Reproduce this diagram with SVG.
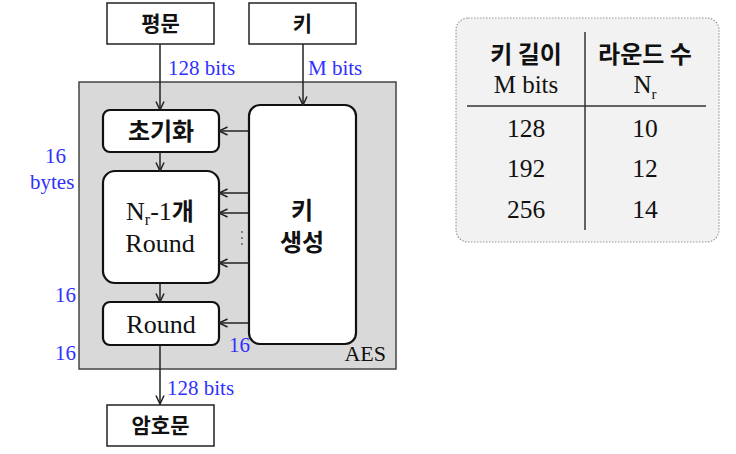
<svg xmlns="http://www.w3.org/2000/svg" width="736" height="454" viewBox="0 0 736 454">
<style>
.t{fill:#111}
.k{font-weight:bold;fill:#111}
.b{fill:#3030ff;font-size:21px}
.box{fill:#fff;stroke:#222;stroke-width:1.5}
.rb{fill:#fff;stroke:#111;stroke-width:2.2}
.ln{stroke:#222;stroke-width:1.5;fill:none}
</style>
<defs>
<marker id="ah" viewBox="0 0 10 10" refX="9.5" refY="5" markerWidth="10" markerHeight="10" markerUnits="userSpaceOnUse" orient="auto">
<path d="M1,1 L9.5,5 L1,9" fill="none" stroke="#222" stroke-width="1.5"/>
</marker>
</defs>
<rect id="aes" x="79" y="82" width="317" height="287" fill="#d9d9d9" stroke="#444" stroke-width="1.5"/>
<text class="t" font-family="Liberation Serif" x="386" y="361" font-size="22" text-anchor="end">AES</text>
<g id="plain"><rect class="box" x="107" y="3" width="107" height="41"/><text class="k" font-family="Noto Sans CJK KR" x="160.5" y="31" font-size="21" text-anchor="middle">평문</text></g>
<g id="key"><rect class="box" x="249" y="3" width="107" height="41"/><text class="k" font-family="Noto Sans CJK KR" x="302.5" y="31" font-size="21" text-anchor="middle">키</text></g>
<g id="init"><rect class="rb" x="103" y="110" width="116" height="42" rx="7"/><text class="k" font-family="Noto Sans CJK KR" x="161" y="140" font-size="24" text-anchor="middle">초기화</text></g>
<g id="rounds"><rect class="rb" x="103" y="171" width="116" height="112" rx="12"/>
<text class="t" font-family="Liberation Serif" x="160" y="220" font-size="26" text-anchor="middle">N<tspan font-size="16" dy="5">r</tspan><tspan dy="-5">-1</tspan><tspan class="k" font-family="Noto Sans CJK KR" font-size="24">개</tspan></text>
<text class="t" font-family="Liberation Serif" x="160" y="252" font-size="26" text-anchor="middle">Round</text></g>
<g id="final"><rect class="rb" x="103" y="302" width="116" height="43" rx="7"/><text class="t" font-family="Liberation Serif" x="161" y="333" font-size="26" text-anchor="middle">Round</text></g>
<g id="keygen"><rect class="rb" x="249" y="105" width="107" height="239" rx="11"/>
<text class="k" font-family="Noto Sans CJK KR" x="302" y="219" font-size="24" text-anchor="middle">키</text>
<text class="k" font-family="Noto Sans CJK KR" x="302" y="251" font-size="24" text-anchor="middle">생성</text></g>
<g id="cipher"><rect class="box" x="107" y="405" width="107" height="41"/><text class="k" font-family="Noto Sans CJK KR" x="160.5" y="433" font-size="21" text-anchor="middle">암호문</text></g>
<g id="connectors">
<line class="ln" x1="160" y1="44" x2="160" y2="110" marker-end="url(#ah)"/>
<line class="ln" x1="303" y1="44" x2="303" y2="105" marker-end="url(#ah)"/>
<line class="ln" x1="249" y1="131" x2="219" y2="131" marker-end="url(#ah)"/>
<line class="ln" x1="160" y1="152" x2="160" y2="171" marker-end="url(#ah)"/>
<line class="ln" x1="249" y1="193" x2="219" y2="193" marker-end="url(#ah)"/>
<line class="ln" x1="249" y1="213" x2="219" y2="213" marker-end="url(#ah)"/>
<line class="ln" x1="249" y1="263" x2="219" y2="263" marker-end="url(#ah)"/>
<line class="ln" x1="160" y1="283" x2="160" y2="302" marker-end="url(#ah)"/>
<line class="ln" x1="249" y1="323" x2="219" y2="323" marker-end="url(#ah)"/>
<line class="ln" x1="160" y1="345" x2="160" y2="404" marker-end="url(#ah)"/>
<g fill="#555"><circle cx="242" cy="232" r="0.9"/><circle cx="242" cy="238" r="0.9"/><circle cx="242" cy="244" r="0.9"/></g>
</g>
<g id="labels">
<text class="b" font-family="Liberation Serif" x="168" y="75">128 bits</text>
<text class="b" font-family="Liberation Serif" x="308" y="75">M bits</text>
<text class="b" font-family="Liberation Serif" x="45" y="163">16</text>
<text class="b" font-family="Liberation Serif" x="30" y="189">bytes</text>
<text class="b" font-family="Liberation Serif" x="55" y="302">16</text>
<text class="b" font-family="Liberation Serif" x="55" y="360">16</text>
<text class="b" font-family="Liberation Serif" x="229" y="352">16</text>
<text class="b" font-family="Liberation Serif" x="167" y="395">128 bits</text>
</g>
<g id="table">
<rect x="456" y="18" width="263" height="224" rx="12" fill="#f2f2f2" stroke="#999" stroke-width="1.2" stroke-dasharray="1.5 1.5"/>
<line x1="585" y1="32" x2="585" y2="230" stroke="#333" stroke-width="1.5"/>
<line x1="467" y1="106" x2="706" y2="106" stroke="#333" stroke-width="1.5"/>
<text class="k" font-family="Noto Sans CJK KR" x="526" y="63" font-size="24" text-anchor="middle">키 길이</text>
<text class="k" font-family="Noto Sans CJK KR" x="645" y="63" font-size="24" text-anchor="middle">라운드 수</text>
<text class="t" font-family="Liberation Serif" x="526" y="93" font-size="25" text-anchor="middle">M bits</text>
<text class="t" font-family="Liberation Serif" x="645" y="93" font-size="25" text-anchor="middle">N<tspan font-size="15" dy="6">r</tspan></text>
<text class="t" font-family="Liberation Serif" x="526" y="137" font-size="25.5" text-anchor="middle">128</text>
<text class="t" font-family="Liberation Serif" x="645" y="137" font-size="25.5" text-anchor="middle">10</text>
<text class="t" font-family="Liberation Serif" x="526" y="177" font-size="25.5" text-anchor="middle">192</text>
<text class="t" font-family="Liberation Serif" x="645" y="177" font-size="25.5" text-anchor="middle">12</text>
<text class="t" font-family="Liberation Serif" x="526" y="218" font-size="25.5" text-anchor="middle">256</text>
<text class="t" font-family="Liberation Serif" x="645" y="218" font-size="25.5" text-anchor="middle">14</text>
</g>
</svg>
